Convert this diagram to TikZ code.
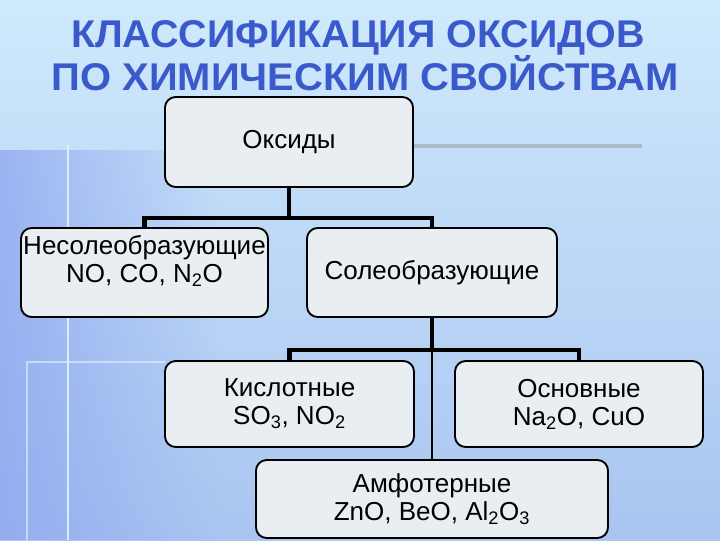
\documentclass[tikz,border=0pt]{standalone}
\usepackage{fontspec}
\setmainfont{Liberation Sans}
\usetikzlibrary{calc,fadings}

\definecolor{bgtop}{HTML}{CFE9FC}
\definecolor{bgbot}{HTML}{A9C5F0}
\definecolor{bgleft}{HTML}{8AA2F0}
\definecolor{boxfill}{HTML}{E9EEF2}
\definecolor{titleblue}{HTML}{3A5ACB}
\definecolor{decor}{HTML}{A9BDC6}
\definecolor{glow}{HTML}{D8EEFB}

\begin{document}
\begin{tikzpicture}[x=0.75pt,y=-0.75pt,
  box/.style={draw=black,line width=1.4pt,rounded corners=8pt,fill=boxfill,
    align=center,inner sep=0pt,font=\fontsize{19.5}{21}\selectfont},
  title/.style={font=\fontsize{29}{32}\selectfont\bfseries,text=titleblue,inner sep=0pt,anchor=base},
  trunk/.style={line width=3.2pt},
  twig/.style={line width=1.1pt}]
\useasboundingbox (0,0) rectangle (720,540);
\shade[top color=bgtop,bottom color=bgbot] (0,0) rectangle (720,540);
\fill[bgleft,opacity=.7,path fading=east] (0,150) rectangle (220,540);
\draw[glow,line width=2.2pt] (68,145) -- (68,540);
\draw[glow,line width=1.8pt,opacity=.7] (27,540) -- (27,362) -- (165,362);
\draw[decor,line width=3pt] (413,146) -- (642,146);

\node[title,xscale=1.02] (ttl1) at (358,47) {КЛАССИФИКАЦИЯ ОКСИДОВ};
\node[title,xscale=1.033] (ttl2) at (365,90) {ПО ХИМИЧЕСКИМ СВОЙСТВАМ};

\node[box,minimum width=186pt,minimum height=67.5pt] (oks) at (289,142) {Оксиды};
\node[box,minimum width=185.25pt,minimum height=66.75pt] (nesol) at (144.5,272.5)
  {Несолеобразующие\\NO, CO, N\textsubscript{2}O\\\mbox{}};
\node[box,minimum width=187.5pt,minimum height=66.75pt] (sol) at (432,272.5) {Солеобразующие};
\node[box,minimum width=186.75pt,minimum height=64.5pt] (kisl) at (289.5,404)
  {Кислотные\\SO\textsubscript{3}, NO\textsubscript{2}};
\node[box,minimum width=186pt,minimum height=64.5pt] (osn) at (579,404)
  {Основные\\Na\textsubscript{2}O, CuO};
\node[box,minimum width=264pt,minimum height=58.5pt] (amf) at (432,499)
  {Амфотерные\\ZnO, BeO, Al\textsubscript{2}O\textsubscript{3}};

\coordinate (j1) at (oks.south |- 0,218);
\coordinate (j2) at (sol.south |- 0,350);
\draw[trunk] (oks.south) -- (j1);
\draw[trunk] (nesol.north) |- (j1) -| (sol.north);
\draw[trunk] (sol.south) -- (j2);
\draw[trunk] (kisl.north) |- (j2) -| (osn.north);
\draw[twig] (j2) -- (amf.north);
\end{tikzpicture}
\end{document}
